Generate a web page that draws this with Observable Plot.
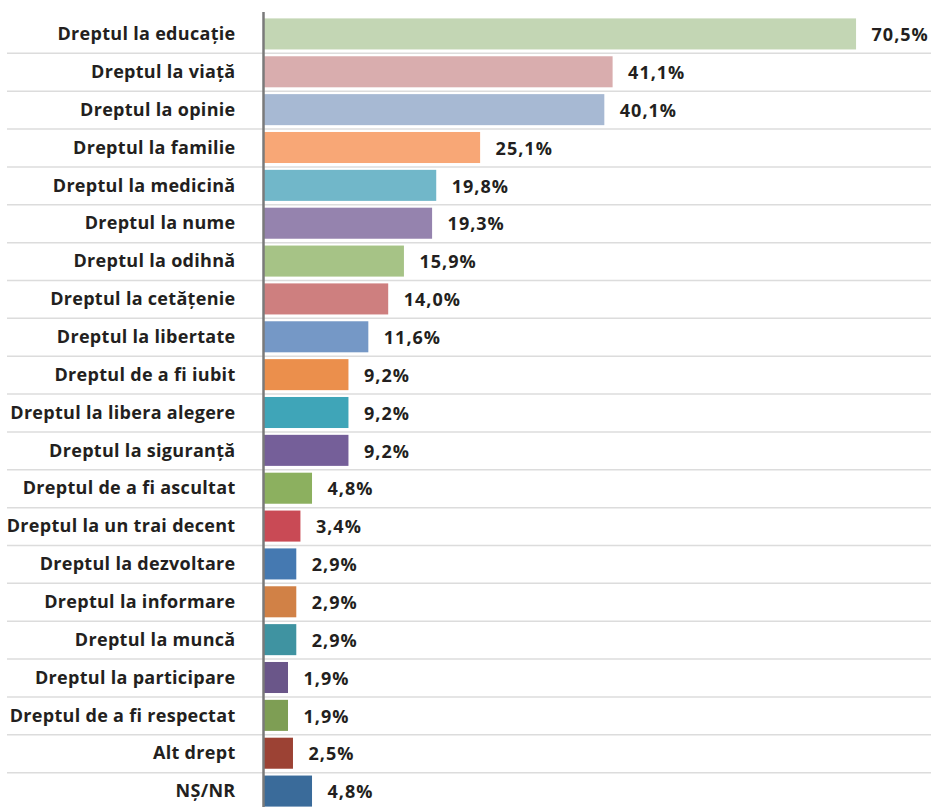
<!DOCTYPE html>
<html>
<head>
<meta charset="utf-8">
<script src="https://cdn.jsdelivr.net/npm/d3@7"></script>
<script src="https://cdn.jsdelivr.net/npm/@observablehq/plot@0.6"></script>
<style>
  html, body { margin: 0; padding: 0; background: #fff; overflow: hidden; }
  #chart svg { display: block; }
  .rights-chart g[aria-label="text"] text { letter-spacing: 1px; }
  .rights-chart g[aria-label="y-axis tick label"] text { letter-spacing: 0.3px; }
</style>
</head>
<body>
<div id="chart"></div>
<script>
const categories = [
  "Dreptul la educație", "Dreptul la viață", "Dreptul la opinie", "Dreptul la familie",
  "Dreptul la medicină", "Dreptul la nume", "Dreptul la odihnă", "Dreptul la cetățenie",
  "Dreptul la libertate", "Dreptul de a fi iubit", "Dreptul la libera alegere",
  "Dreptul la siguranță", "Dreptul de a fi ascultat", "Dreptul la un trai decent",
  "Dreptul la dezvoltare", "Dreptul la informare", "Dreptul la muncă",
  "Dreptul la participare", "Dreptul de a fi respectat", "Alt drept", "NȘ/NR"
];
const values = [70.5, 41.1, 40.1, 25.1, 19.8, 19.3, 15.9, 14.0, 11.6, 9.2, 9.2, 9.2, 4.8, 3.4, 2.9, 2.9, 2.9, 1.9, 1.9, 2.5, 4.8];
const colors = [
  "#c3d6b4", "#d9adae", "#a7b9d3", "#f8a776", "#71b7c9", "#9583ae", "#a6c386",
  "#ce7f7f", "#7598c6", "#eb8f4c", "#3fa5b8", "#755f99", "#8cb05f", "#c94a55",
  "#4579b1", "#d18146", "#3f93a1", "#6a5689", "#7e9e54", "#9c4234", "#3a6b9a"
];
const xMin = -1.12;
const xMax = 79.55;

const data = categories.map((c, i) => ({category: c, value: values[i], color: colors[i]}));
const fmt = v => d3.format(".1f")(v).replace(".", ",") + "%";

const chart = Plot.plot({
  className: "rights-chart",
  width: 931,
  height: 807,
  marginLeft: 263,
  marginRight: 0,
  marginTop: 15,
  marginBottom: -3,
  style: {fontFamily: "'Open Sans', sans-serif", background: "#fff"},
  x: {domain: [xMin, xMax], axis: null},
  y: {domain: categories, paddingInner: 0.18, paddingOuter: 0.09, round: false, label: null},
  marks: [
    Plot.tickY(categories, {
      y: d => d, stroke: "#dcdcdc", strokeWidth: 1.5,
      dy: 37.86 / 2, insetLeft: -256
    }),
    Plot.barX(data, {
      y: "category", x1: () => xMin, x2: "value", fill: "color"
    }),
    Plot.text(data, {
      y: "category", x: "value", text: d => fmt(d.value),
      textAnchor: "start", dx: 15, dy: 1, fontSize: 18, fontWeight: "bold", fill: "#231f20"
    }),
    Plot.axisY({
      tickSize: 0, tickPadding: 28, fontSize: 18, fontWeight: "bold", fill: "#231f20", label: null
    }),
    Plot.ruleX([xMin], {stroke: "#7a7a7a", strokeWidth: 2.5, insetTop: -3})
  ]
});
document.getElementById("chart").appendChild(chart);
</script>
</body>
</html>
